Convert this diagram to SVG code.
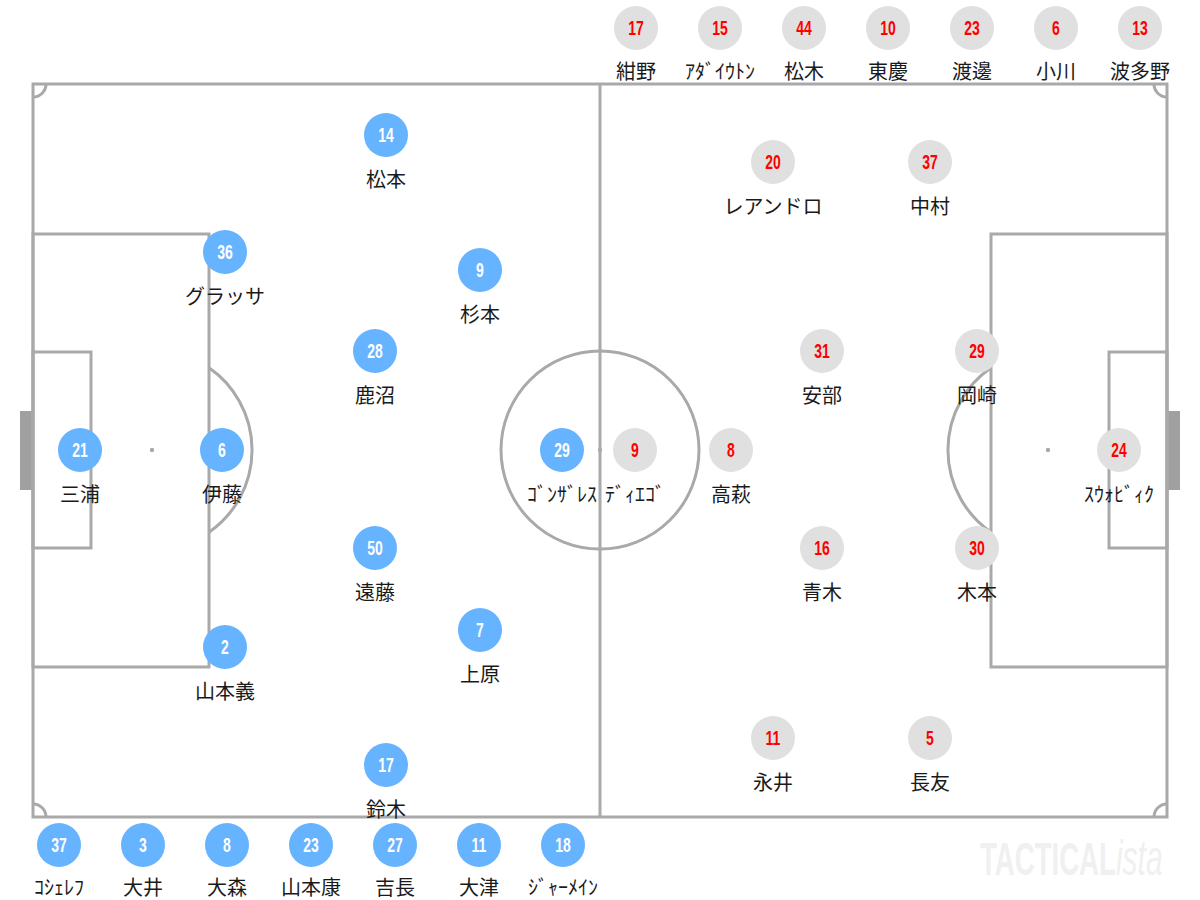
<svg xmlns="http://www.w3.org/2000/svg" width="1200" height="900" viewBox="0 0 1200 900">
<style>
.line{fill:none;stroke:#a9a9a9;stroke-width:3}
.spot{fill:#a9a9a9}
.goal{fill:#a0a0a0}
.home circle{fill:#66b3ff}
.away circle{fill:#e0e0e0}
.num{font-family:"Liberation Sans",Arial,sans-serif;font-weight:bold;font-size:20px;text-anchor:middle}
.home .num{fill:#ffffff}
.away .num{fill:#ff0000}
.lbl{font-family:"Noto Sans CJK JP","Noto Sans",sans-serif;font-size:20px;fill:#1a1a1a;text-anchor:middle}
.wm{font-family:"Liberation Sans",Arial,sans-serif;font-weight:bold;font-size:46px;fill:#f0f0f0}
</style>
<rect width="1200" height="900" fill="#ffffff"/>
<g id="pitch">
<rect class="goal" x="20" y="411" width="13" height="79"/>
<rect class="goal" x="1167" y="411" width="13" height="79"/>
<rect class="line" x="33" y="84" width="1134" height="733"/>
<line class="line" x1="600" y1="84" x2="600" y2="817"/>
<circle class="line" cx="600" cy="450" r="99"/>
<circle class="spot" cx="600" cy="450" r="2.2"/>
<rect class="line" x="33" y="234" width="176" height="433"/>
<rect class="line" x="33" y="352" width="58" height="196"/>
<rect class="line" x="991" y="234" width="176" height="433"/>
<rect class="line" x="1109" y="352" width="58" height="196"/>
<circle class="spot" cx="152" cy="450" r="2.2"/>
<circle class="spot" cx="1048" cy="450" r="2.2"/>
<path class="line" d="M209,367.8 A100,100 0 0 1 209,532.2"/>
<path class="line" d="M991,367.8 A100,100 0 0 0 991,532.2"/>
<path class="line" d="M33,97 A13,13 0 0 0 46,84"/>
<path class="line" d="M1154,84 A13,13 0 0 0 1167,97"/>
<path class="line" d="M33,804 A13,13 0 0 1 46,817"/>
<path class="line" d="M1167,804 A13,13 0 0 0 1154,817"/>
</g>
<g id="connectors"></g>
<text class="wm" transform="translate(980,875) scale(0.6,1)">TACTICAL<tspan font-style="italic" font-weight="normal" font-size="50">ista</tspan></text>
<g id="home" class="home">
<g id="h14" transform="translate(386,135)"><circle r="22"/><text class="num" transform="scale(0.7,1)" y="7">14</text><text class="lbl" y="52">松本</text></g>
<g id="h36" transform="translate(225,252)"><circle r="22"/><text class="num" transform="scale(0.7,1)" y="7">36</text><text class="lbl" y="52">グラッサ</text></g>
<g id="h9" transform="translate(480,270)"><circle r="22"/><text class="num" transform="scale(0.7,1)" y="7">9</text><text class="lbl" y="52">杉本</text></g>
<g id="h28" transform="translate(375,351)"><circle r="22"/><text class="num" transform="scale(0.7,1)" y="7">28</text><text class="lbl" y="52">鹿沼</text></g>
<g id="h21" transform="translate(80,450)"><circle r="22"/><text class="num" transform="scale(0.7,1)" y="7">21</text><text class="lbl" y="52">三浦</text></g>
<g id="h6" transform="translate(222,450)"><circle r="22"/><text class="num" transform="scale(0.7,1)" y="7">6</text><text class="lbl" y="52">伊藤</text></g>
<g id="h29" transform="translate(562,450)"><circle r="22"/><text class="num" transform="scale(0.7,1)" y="7">29</text><text class="lbl" y="52">ｺﾞﾝｻﾞﾚｽ</text></g>
<g id="h50" transform="translate(375,548)"><circle r="22"/><text class="num" transform="scale(0.7,1)" y="7">50</text><text class="lbl" y="52">遠藤</text></g>
<g id="h7" transform="translate(480,630)"><circle r="22"/><text class="num" transform="scale(0.7,1)" y="7">7</text><text class="lbl" y="52">上原</text></g>
<g id="h2" transform="translate(225,647)"><circle r="22"/><text class="num" transform="scale(0.7,1)" y="7">2</text><text class="lbl" y="52">山本義</text></g>
<g id="h17" transform="translate(386,765)"><circle r="22"/><text class="num" transform="scale(0.7,1)" y="7">17</text><text class="lbl" y="52">鈴木</text></g>
<g id="hb37" transform="translate(59,845)"><circle r="22"/><text class="num" transform="scale(0.7,1)" y="7">37</text><text class="lbl" y="50">ｺｼｪﾚﾌ</text></g>
<g id="hb3" transform="translate(143,845)"><circle r="22"/><text class="num" transform="scale(0.7,1)" y="7">3</text><text class="lbl" y="50">大井</text></g>
<g id="hb8" transform="translate(227,845)"><circle r="22"/><text class="num" transform="scale(0.7,1)" y="7">8</text><text class="lbl" y="50">大森</text></g>
<g id="hb23" transform="translate(311,845)"><circle r="22"/><text class="num" transform="scale(0.7,1)" y="7">23</text><text class="lbl" y="50">山本康</text></g>
<g id="hb27" transform="translate(395,845)"><circle r="22"/><text class="num" transform="scale(0.7,1)" y="7">27</text><text class="lbl" y="50">吉長</text></g>
<g id="hb11" transform="translate(479,845)"><circle r="22"/><text class="num" transform="scale(0.7,1)" y="7">11</text><text class="lbl" y="50">大津</text></g>
<g id="hb18" transform="translate(563,845)"><circle r="22"/><text class="num" transform="scale(0.7,1)" y="7">18</text><text class="lbl" y="50">ｼﾞｬｰﾒｲﾝ</text></g>
</g>
<g id="away" class="away">
<g id="a20" transform="translate(773,162)"><circle r="22"/><text class="num" transform="scale(0.7,1)" y="7">20</text><text class="lbl" y="52">レアンドロ</text></g>
<g id="a37" transform="translate(930,162)"><circle r="22"/><text class="num" transform="scale(0.7,1)" y="7">37</text><text class="lbl" y="52">中村</text></g>
<g id="a31" transform="translate(822,351)"><circle r="22"/><text class="num" transform="scale(0.7,1)" y="7">31</text><text class="lbl" y="52">安部</text></g>
<g id="a29" transform="translate(977,351)"><circle r="22"/><text class="num" transform="scale(0.7,1)" y="7">29</text><text class="lbl" y="52">岡崎</text></g>
<g id="a9" transform="translate(635,450)"><circle r="22"/><text class="num" transform="scale(0.7,1)" y="7">9</text><text class="lbl" y="52">ﾃﾞｨｴｺﾞ</text></g>
<g id="a8" transform="translate(731,450)"><circle r="22"/><text class="num" transform="scale(0.7,1)" y="7">8</text><text class="lbl" y="52">高萩</text></g>
<g id="a24" transform="translate(1119,450)"><circle r="22"/><text class="num" transform="scale(0.7,1)" y="7">24</text><text class="lbl" y="52">ｽｳｫﾋﾞｨｸ</text></g>
<g id="a16" transform="translate(822,548)"><circle r="22"/><text class="num" transform="scale(0.7,1)" y="7">16</text><text class="lbl" y="52">青木</text></g>
<g id="a30" transform="translate(977,548)"><circle r="22"/><text class="num" transform="scale(0.7,1)" y="7">30</text><text class="lbl" y="52">木本</text></g>
<g id="a11" transform="translate(773,738)"><circle r="22"/><text class="num" transform="scale(0.7,1)" y="7">11</text><text class="lbl" y="52">永井</text></g>
<g id="a5" transform="translate(930,738)"><circle r="22"/><text class="num" transform="scale(0.7,1)" y="7">5</text><text class="lbl" y="52">長友</text></g>
<g id="ab17" transform="translate(636,28)"><circle r="22"/><text class="num" transform="scale(0.7,1)" y="7">17</text><text class="lbl" y="51">紺野</text></g>
<g id="ab15" transform="translate(720,28)"><circle r="22"/><text class="num" transform="scale(0.7,1)" y="7">15</text><text class="lbl" y="51">ｱﾀﾞｲｳﾄﾝ</text></g>
<g id="ab44" transform="translate(804,28)"><circle r="22"/><text class="num" transform="scale(0.7,1)" y="7">44</text><text class="lbl" y="51">松木</text></g>
<g id="ab10" transform="translate(888,28)"><circle r="22"/><text class="num" transform="scale(0.7,1)" y="7">10</text><text class="lbl" y="51">東慶</text></g>
<g id="ab23" transform="translate(972,28)"><circle r="22"/><text class="num" transform="scale(0.7,1)" y="7">23</text><text class="lbl" y="51">渡邊</text></g>
<g id="ab6" transform="translate(1056,28)"><circle r="22"/><text class="num" transform="scale(0.7,1)" y="7">6</text><text class="lbl" y="51">小川</text></g>
<g id="ab13" transform="translate(1140,28)"><circle r="22"/><text class="num" transform="scale(0.7,1)" y="7">13</text><text class="lbl" y="51">波多野</text></g>
</g>
</svg>
